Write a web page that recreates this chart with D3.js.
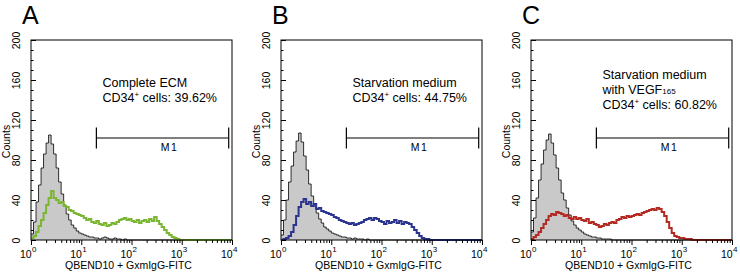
<!DOCTYPE html>
<html>
<head>
<meta charset="utf-8">
<script src="https://cdn.jsdelivr.net/npm/d3@7"></script>
<style>
  body { margin: 0; background: #fff; }
  svg { display: block; font-family: "Liberation Sans", Arial, Helvetica, sans-serif; }
</style>
</head>
<body>
<div id="chart"></div>
<script>
// panel letters and annotation text
var panelLabels = ["A", "B", "C"];
var conditionLines = [["Complete ECM"], ["Starvation medium"], ["Starvation medium", "with VEGF"]];
var conditionSub = ["", "", "165"];
var cd34Percent = ["39.62%", "44.75%", "60.82%"];
var sampleColors = ["#7ab632", "#2b3590", "#b42a22"];

// histogram counts, one bin per 0.05 decade from 10^0
var isotypeA = [6,18,38,55,72,86,97,105,96,86,72,58,46,35,26,20,15,12,9,7,
  6,5,4,3,3,2,2,1,2,3,2,1,1,2,1,1,0,1,0,0,
  0,0,0,0,0,0,0,0,0,0,0,0,0,0,0,0,0,0,0,0,
  0,0,0,0,0,0,0,0,0,0,0,0,0,0,0,0,0,0,0,0];
var sampleA = [2,4,8,14,20,27,35,42,49,42,40,37,38,34,33,30,29,27,26,25,
  24,22,20,21,18,17,19,16,15,17,14,15,17,16,18,20,21,22,20,21,
  19,18,20,17,19,20,18,21,19,23,19,16,13,10,7,5,3,2,1,0,
  0,0,0,0,0,0,0,0,0,0,0,0,0,0,0,0,0,0,0,0];
var isotypeB = [5,20,40,58,74,88,99,107,98,84,70,56,44,34,27,21,17,13,11,9,
  7,6,5,4,3,3,2,2,1,2,1,1,1,0,1,0,0,0,0,0,
  0,0,0,0,0,0,0,0,0,0,0,0,0,0,0,0,0,0,0,0,
  0,0,0,0,0,0,0,0,0,0,0,0,0,0,0,0,0,0,0,0];
var sampleB = [0,1,2,4,8,15,24,33,38,41,36,38,34,36,31,32,29,28,27,26,
  25,23,22,20,19,18,17,16,17,15,16,17,18,20,21,22,20,22,21,19,
  18,16,19,17,18,20,17,19,16,18,17,16,13,10,7,4,2,1,1,0,
  0,0,0,0,0,0,0,0,0,0,0,0,0,0,0,0,0,0,0,0];
var isotypeC = [8,22,42,60,76,90,100,106,97,85,72,60,47,40,32,25,19,15,12,10,
  8,6,5,4,3,3,2,2,1,1,1,1,0,0,0,0,0,0,0,0,
  0,0,0,0,0,0,0,0,0,0,0,0,0,0,0,0,0,0,0,0,
  0,0,0,0,0,0,0,0,0,0,0,0,0,0,0,0,0,0,0,0];
var sampleC = [1,3,5,8,12,16,20,24,26,25,28,27,26,24,25,22,21,23,21,22,
  20,19,21,17,18,16,15,13,14,16,15,17,18,17,20,21,23,22,24,23,
  24,25,26,25,27,28,29,30,31,30,32,31,28,24,18,12,7,4,3,2,
  2,1,1,1,0,0,0,0,0,0,0,0,0,0,0,0,0,0,0,0];

var isotypes = [isotypeA, isotypeB, isotypeC];
var samples = [sampleA, sampleB, sampleC];

var binLog = 0.05;              // bin width in decades
var m1Gate = [20, 8600];        // M1 marker range
var m1Level = 102;              // counts level of marker
var xDecades = [1, 10, 100, 1000, 10000];
var yMajor = [0, 40, 80, 120, 160, 200];

var svgW = 740, svgH = 274;
var plotW = 201, plotH = 200, plotTop = 40;
var panelLeft = [31, 281, 531];

var svg = d3.select("#chart").append("svg")
    .attr("width", svgW)
    .attr("height", svgH);

var x = d3.scaleLog().domain([1, 10000]).range([0, plotW]);
var y = d3.scaleLinear().domain([0, 200]).range([plotH, 0]);

function toPoints(counts) {
    var pts = counts.map(function (c, i) { return [Math.pow(10, i * binLog), c]; });
    pts.push([10000, counts[counts.length - 1]]);
    return pts;
}

var line = d3.line()
    .x(function (d) { return x(d[0]); })
    .y(function (d) { return y(d[1]); })
    .curve(d3.curveStepAfter);

var area = d3.area()
    .x(function (d) { return x(d[0]); })
    .y0(y(0))
    .y1(function (d) { return y(d[1]); })
    .curve(d3.curveStepAfter);

panelLabels.forEach(function (lab, k) {
    var g = svg.append("g")
        .attr("transform", "translate(" + panelLeft[k] + "," + plotTop + ")");

    // panel letter
    svg.append("text")
        .attr("x", panelLeft[k] - 9)
        .attr("y", 23.5)
        .attr("font-size", 25)
        .text(lab);

    // isotype control (grey filled)
    var iso = toPoints(isotypes[k]);
    g.append("path")
        .datum(iso)
        .attr("d", area)
        .attr("fill", "#c9c9c9");
    g.append("path")
        .datum(iso)
        .attr("d", line)
        .attr("fill", "none")
        .attr("stroke", "#000")
        .attr("stroke-width", 0.8);

    // sample histogram
    g.append("path")
        .datum(toPoints(samples[k]))
        .attr("d", line)
        .attr("fill", "none")
        .attr("stroke", sampleColors[k])
        .attr("stroke-width", 2);

    // frame
    g.append("rect")
        .attr("width", plotW)
        .attr("height", plotH)
        .attr("fill", "none")
        .attr("stroke", "#000")
        .attr("stroke-width", 1);

    // y axis: inward ticks, rotated labels
    var yMinor = g.append("g")
        .call(d3.axisLeft(y).tickValues(d3.range(0, 201, 10)).tickSize(-2.5).tickFormat(""));
    yMinor.select(".domain").remove();

    var yAx = g.append("g")
        .call(d3.axisLeft(y).tickValues(yMajor).tickSize(-5));
    yAx.select(".domain").remove();
    yAx.selectAll("text")
        .attr("transform", "rotate(-90)")
        .attr("x", 0)
        .attr("y", -11.5)
        .attr("dy", 0)
        .attr("text-anchor", "middle")
        .attr("font-size", 10.5)
        .attr("font-family", null)
        .attr("fill", "#000");

    g.append("text")
        .attr("transform", "translate(-21.5," + (plotH / 2 + 1.5) + ") rotate(-90)")
        .attr("text-anchor", "middle")
        .attr("font-size", 10.5)
        .text("Counts");

    // x axis: log ticks below
    var minorX = x.ticks().filter(function (t) { return xDecades.indexOf(t) < 0; });
    var xMin = g.append("g")
        .attr("transform", "translate(0," + plotH + ")")
        .call(d3.axisBottom(x).tickValues(minorX).tickSize(3).tickFormat(""));
    xMin.select(".domain").remove();

    var xAx = g.append("g")
        .attr("transform", "translate(0," + plotH + ")")
        .call(d3.axisBottom(x).tickValues(xDecades).tickSize(5).tickFormat(""));
    xAx.select(".domain").remove();

    xDecades.forEach(function (t, i) {
        g.append("text")
            .attr("x", x(t) + 0.7)
            .attr("y", plotH + 17.5)
            .attr("text-anchor", "end")
            .attr("font-size", 10.5)
            .text("10");
        g.append("text")
            .attr("x", x(t) + 1)
            .attr("y", plotH + 11.5)
            .attr("font-size", 8)
            .text(i);
    });

    g.append("text")
        .attr("x", plotW / 2 - 3)
        .attr("y", plotH + 29)
        .attr("text-anchor", "middle")
        .attr("font-size", 10.5)
        .text("QBEND10 + GxmIgG-FITC");

    // annotation
    var nLines = conditionLines[k].length;
    var firstBase = nLines > 1 ? 39 : 47.3;
    var tx = 71.5;
    conditionLines[k].forEach(function (s, i) {
        var t = g.append("text")
            .attr("x", tx)
            .attr("y", firstBase + i * 15)
            .attr("font-size", 12.5)
            .text(s);
        if (i === nLines - 1 && conditionSub[k]) {
            t.append("tspan").attr("font-size", 8).text(conditionSub[k]);
        }
    });
    var cd = g.append("text")
        .attr("x", tx)
        .attr("y", firstBase + nLines * 15 - 0.5)
        .attr("font-size", 12.5)
        .text("CD34");
    cd.append("tspan").attr("font-size", 8).attr("dy", -4.5).text("+");
    cd.append("tspan").attr("dy", 4.5).text(" cells: " + cd34Percent[k]);

    // M1 marker
    var my = y(m1Level);
    var x0 = x(m1Gate[0]), x1 = x(m1Gate[1]);
    g.append("line").attr("x1", x0).attr("x2", x1).attr("y1", my).attr("y2", my)
        .attr("stroke", "#000").attr("stroke-width", 1.2);
    [x0, x1].forEach(function (xx) {
        g.append("line").attr("x1", xx).attr("x2", xx).attr("y1", my - 10.5).attr("y2", my + 10.5)
            .attr("stroke", "#000").attr("stroke-width", 1.2);
    });
    g.append("text")
        .attr("x", (x0 + x1) / 2 + 7)
        .attr("y", my + 12.5)
        .attr("text-anchor", "middle")
        .attr("font-size", 10.5)
        .attr("letter-spacing", 1.5)
        .text("M1");
});
</script>
</body>
</html>
